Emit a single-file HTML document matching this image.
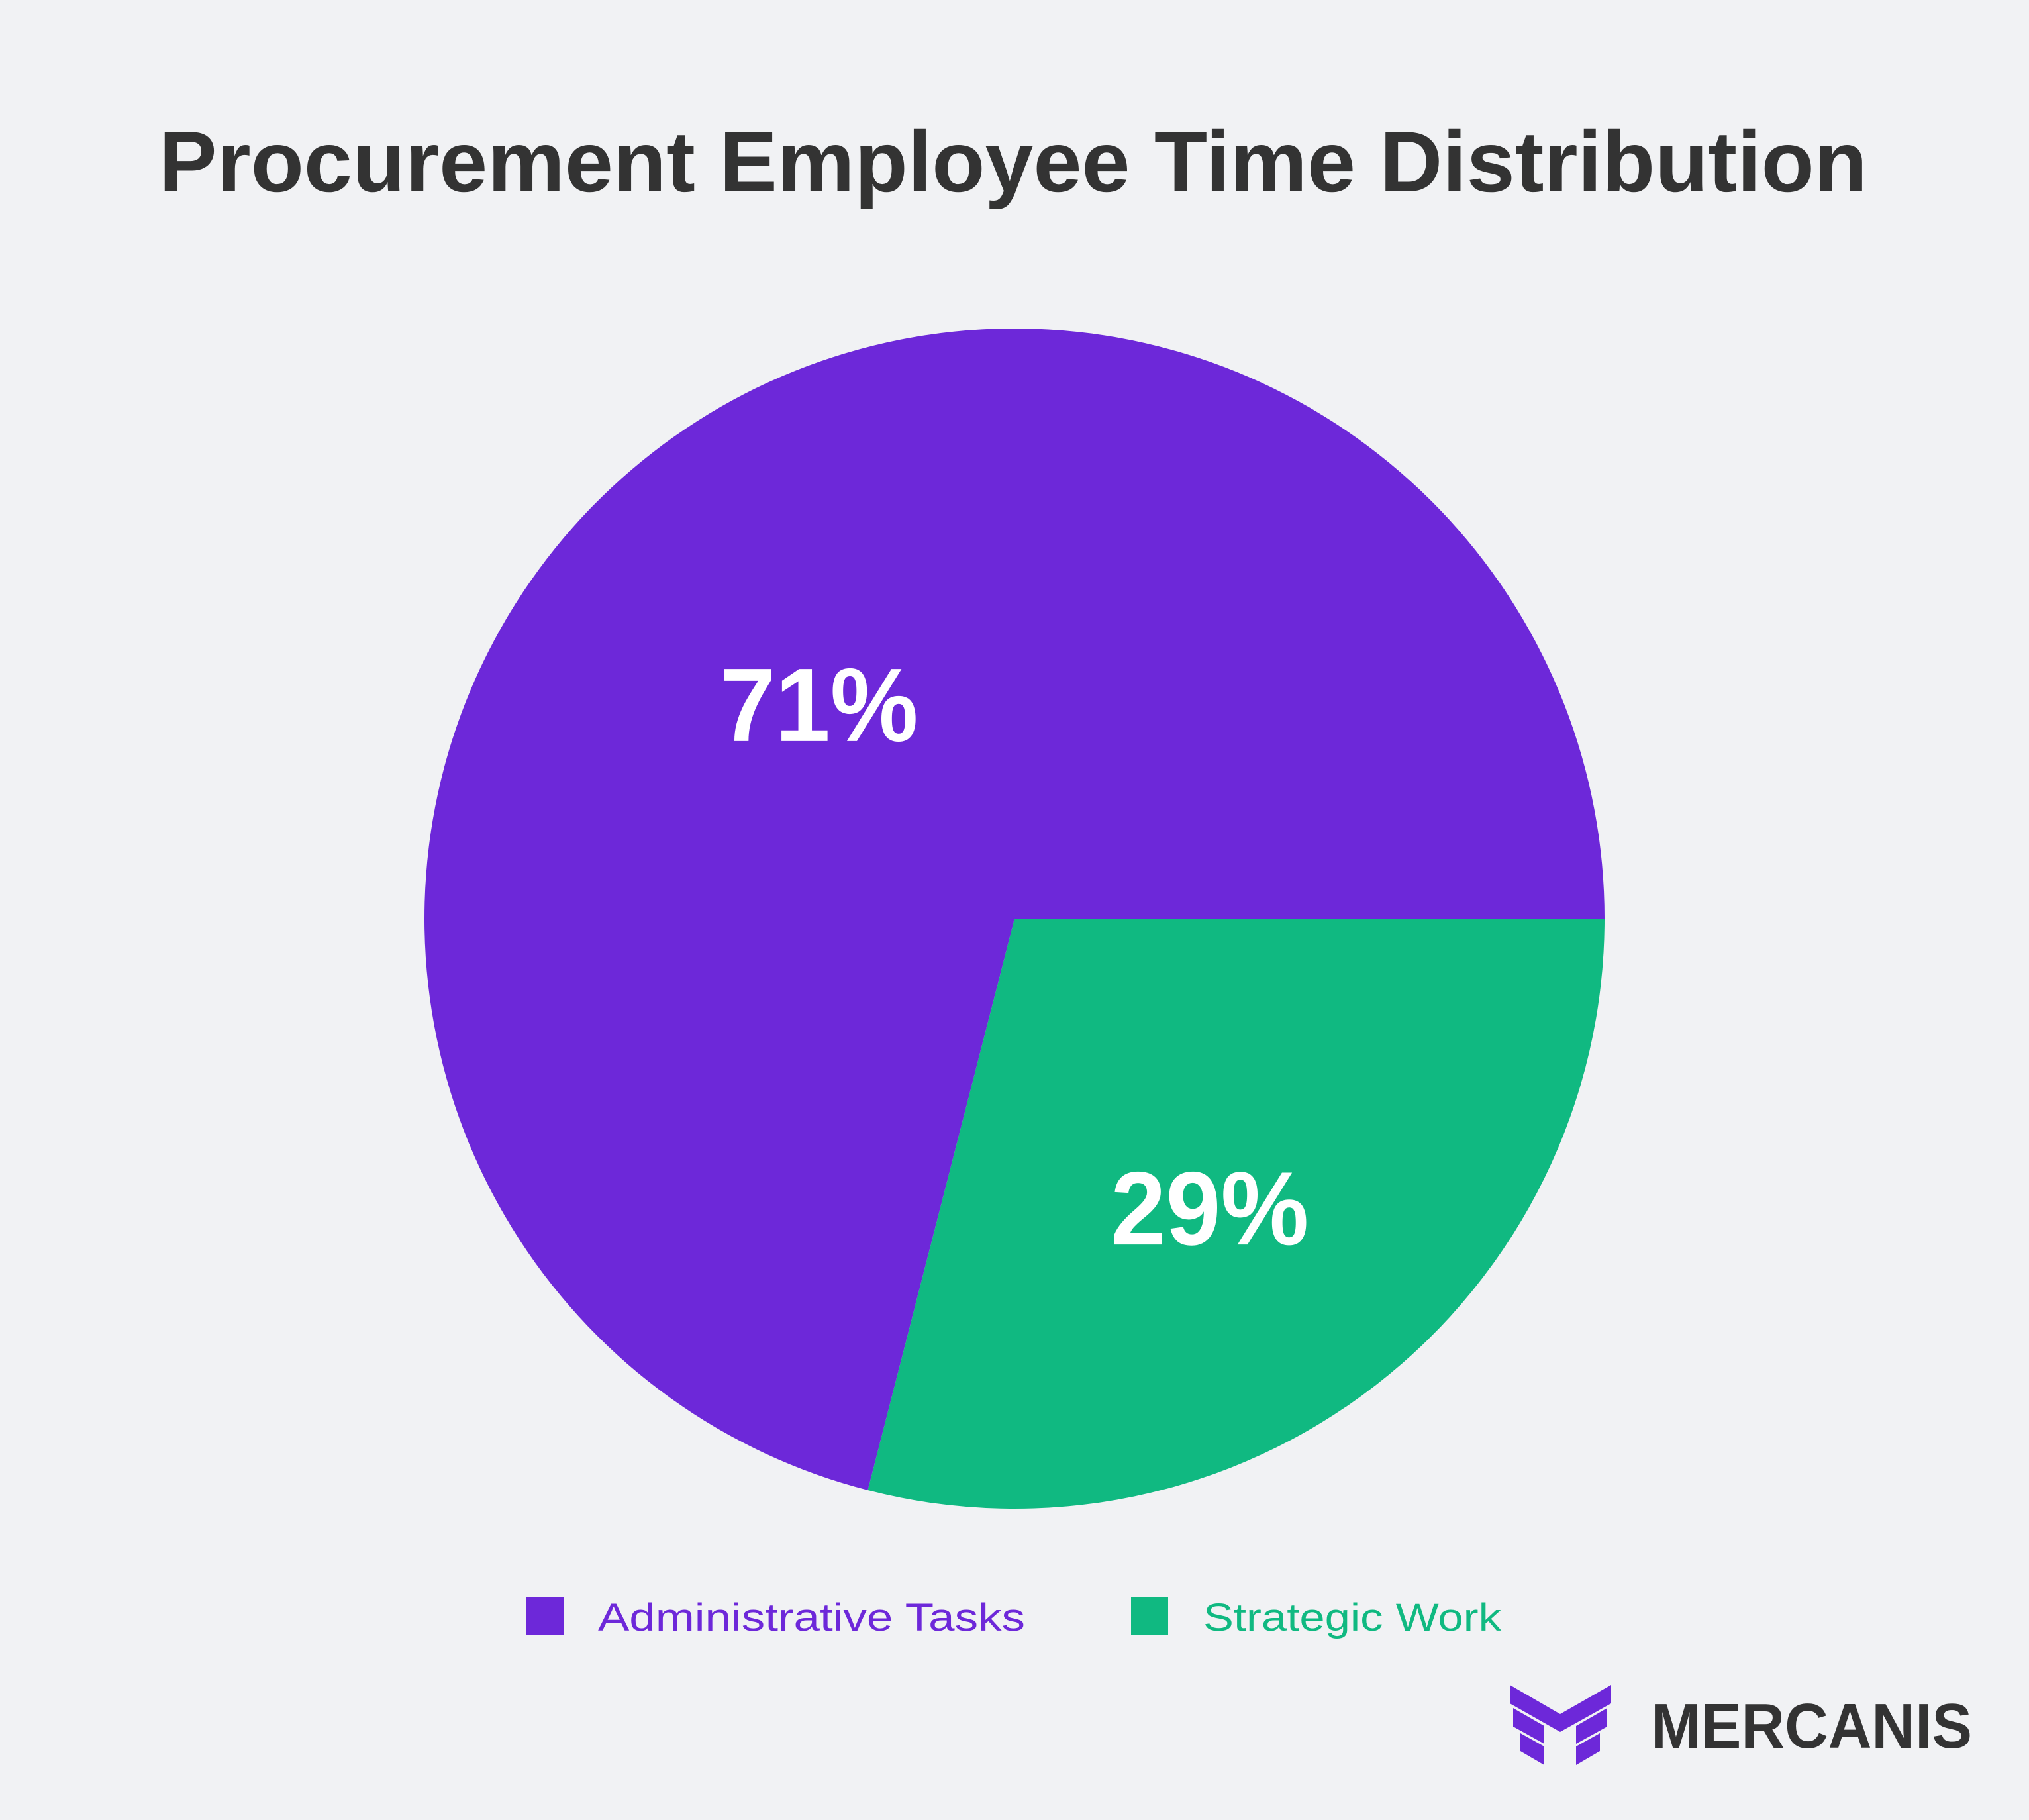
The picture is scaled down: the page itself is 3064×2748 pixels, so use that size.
<!DOCTYPE html>
<html><head><meta charset="utf-8"><style>
html,body{margin:0;padding:0;background:#f1f2f4;}
svg{display:block;}
</style></head><body>
<svg id="chart" width="3064" height="2748" viewBox="0 0 3064 2748" xmlns="http://www.w3.org/2000/svg">
<rect width="3064" height="2748" fill="#f1f2f4"/>
<text x="1530" y="289" text-anchor="middle" font-family="Liberation Sans, sans-serif" font-weight="bold" font-size="130" fill="#333333" textLength="2580" lengthAdjust="spacingAndGlyphs">Procurement Employee Time Distribution</text>
<g id="slices"></g>
<g>
<rect x="795" y="2411" width="56" height="57" fill="#6d28d9"/>
<text x="903" y="2462" font-family="Liberation Sans, sans-serif" font-size="58" fill="#6d28d9" textLength="645" lengthAdjust="spacingAndGlyphs">Administrative Tasks</text>
<rect x="1708" y="2411" width="56" height="57" fill="#10b981"/>
<text x="1817" y="2462" font-family="Liberation Sans, sans-serif" font-size="58" fill="#10b981" textLength="450" lengthAdjust="spacingAndGlyphs">Strategic Work</text>
</g>
<g fill="#6d28d9">
<polygon points="2280,2544 2356,2588 2433,2544 2433,2572 2356,2615 2280,2572"/>
<polygon points="2285,2579 2332,2606 2332,2633 2285,2607"/>
<polygon points="2296,2617 2332,2637 2332,2665 2296,2644"/>
<polygon points="2427,2579 2380,2606 2380,2633 2427,2607"/>
<polygon points="2416,2617 2380,2637 2380,2665 2416,2644"/>
<text x="2493" y="2639" font-family="Liberation Sans, sans-serif" font-weight="bold" font-size="96" fill="#333333" textLength="485" lengthAdjust="spacingAndGlyphs">MERCANIS</text>
</g>
</svg>
<script>
const categories = ["Strategic Work", "Administrative Tasks"];
const values = [29, 71];
const colors = ["#10b981", "#6d28d9"];
const cx = 1532, cy = 1387, r = 891, labelR = 0.54 * r;
const NS = "http://www.w3.org/2000/svg";
const g = document.getElementById("slices");
const total = values.reduce((a, b) => a + b, 0);
let start = 0;
values.forEach((v, i) => {
  const a0 = start / total * 2 * Math.PI;
  const a1 = (start + v) / total * 2 * Math.PI;
  start += v;
  const x0 = cx + r * Math.cos(a0), y0 = cy + r * Math.sin(a0);
  const x1 = cx + r * Math.cos(a1), y1 = cy + r * Math.sin(a1);
  const large = (a1 - a0) > Math.PI ? 1 : 0;
  const p = document.createElementNS(NS, "path");
  p.setAttribute("d", `M${cx},${cy} L${x0},${y0} A${r},${r} 0 ${large} 1 ${x1},${y1} Z`);
  p.setAttribute("fill", colors[i]);
  
  
  g.appendChild(p);
  const am = (a0 + a1) / 2;
  const t = document.createElementNS(NS, "text");
  t.setAttribute("x", cx + labelR * Math.cos(am));
  t.setAttribute("y", cy + labelR * Math.sin(am) + 112);
  t.setAttribute("text-anchor", "middle");
  t.setAttribute("font-family", "Liberation Sans, sans-serif");
  t.setAttribute("font-weight", "bold");
  t.setAttribute("font-size", "158");
  t.setAttribute("textLength", "299");
  t.setAttribute("lengthAdjust", "spacingAndGlyphs");
  t.setAttribute("fill", "#ffffff");
  t.textContent = v + "%";
  
  
  g.appendChild(t);
});
</script>
</body></html>
